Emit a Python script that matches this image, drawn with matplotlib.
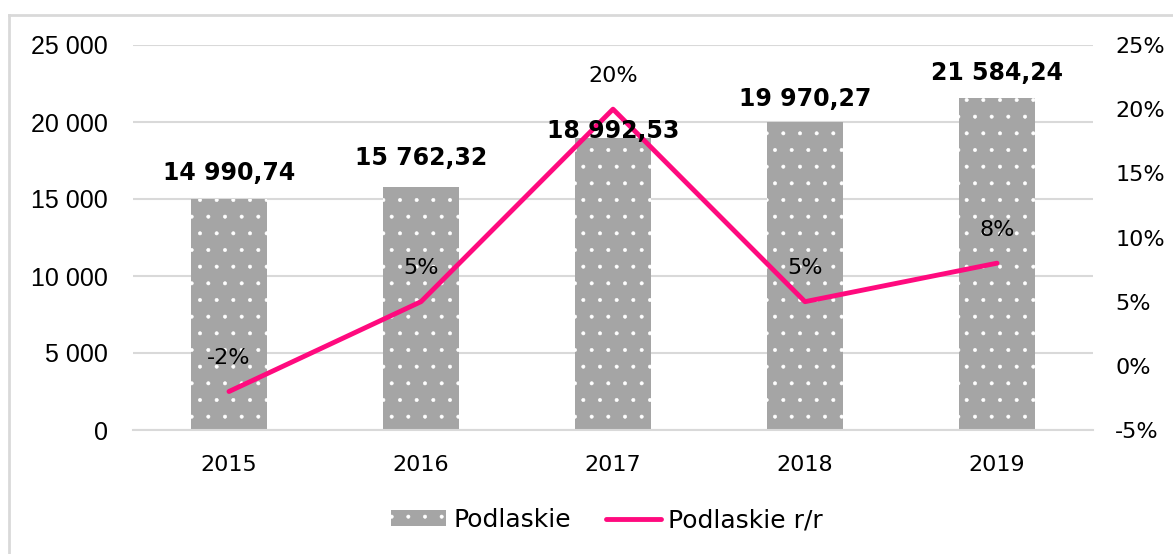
import matplotlib.pyplot as plt
import numpy as np
from matplotlib.lines import Line2D

years = ["2015", "2016", "2017", "2018", "2019"]
values = [14990.74, 15762.32, 18992.53, 19970.27, 21584.24]
yoy = [-2, 5, 20, 5, 8]
value_labels = ["14 990,74", "15 762,32", "18 992,53", "19 970,27", "21 584,24"]
yoy_labels = ["-2%", "5%", "20%", "5%", "8%"]
left_ticks = [0, 5000, 10000, 15000, 20000, 25000]
left_tick_labels = ["0", "5 000", "10 000", "15 000", "20 000", "25 000"]
right_ticks = [-5, 0, 5, 10, 15, 20, 25]
right_tick_labels = ["-5%", "0%", "5%", "10%", "15%", "20%", "25%"]

BAR = "#A5A5A5"
PINK = "#FF0A7E"
GRID = "#D9D9D9"

plt.rcParams["font.family"] = ["DejaVu Sans"]
plt.rcParams["hatch.linewidth"] = 0.4

fig = plt.figure(figsize=(11.73, 5.54), dpi=100)
# outer frame of the chart
fig.add_artist(Line2D([9 / 1173, 9 / 1173], [0, 1 - 15 / 554], color=GRID, lw=2,
                      transform=fig.transFigure))
fig.add_artist(Line2D([9 / 1173, 1], [1 - 15 / 554, 1 - 15 / 554], color=GRID, lw=2,
                      transform=fig.transFigure))

ax = fig.add_axes([133 / 1173, 1 - 430 / 554, 960 / 1173, 385 / 554])
x = np.arange(len(years))
bars = ax.bar(x, values, width=0.4, color=BAR, edgecolor="white", linewidth=0,
              hatch=".", zorder=2)
ax.set_xlim(-0.5, len(years) - 0.5)
ax.set_ylim(0, 25000)
ax.set_yticks(left_ticks)
ax.set_yticklabels(left_tick_labels, family=["Liberation Sans"], fontsize=18)
ax.set_xticks(x)
ax.set_xticklabels(years, fontsize=16)
ax.tick_params(axis="y", length=0, pad=18)
ax.tick_params(axis="x", length=0, pad=18)
ax.grid(axis="y", color=GRID, linewidth=1.5, zorder=0)
ax.set_axisbelow(True)
for s in ["top", "right", "left"]:
    ax.spines[s].set_visible(False)
ax.spines["bottom"].set_color(GRID)
ax.spines["bottom"].set_linewidth(1.5)

ax2 = ax.twinx()
ax2.plot(x, yoy, color=PINK, linewidth=3.5, solid_capstyle="round", zorder=3)
ax2.set_ylim(-5, 25)
ax2.set_yticks(right_ticks)
ax2.set_yticklabels(right_tick_labels, fontsize=16)
ax2.tick_params(axis="y", length=0, pad=16)
for s in ax2.spines.values():
    s.set_visible(False)

# value labels above bars (2017 sits lower to leave room for the 20% label)
bar_offsets = [19, 21, 5, 17, 18]
for i, (v, lab) in enumerate(zip(values, value_labels)):
    ax2.annotate(lab, xy=(x[i], v), xycoords=ax.transData,
                 xytext=(0, bar_offsets[i]), textcoords="offset points",
                 ha="center", va="center", fontsize=17, fontweight="bold", zorder=5)

for i, (p, lab) in enumerate(zip(yoy, yoy_labels)):
    ax2.annotate(lab, xy=(x[i], p), xytext=(0, 24), textcoords="offset points",
                 ha="center", va="center", fontsize=16, zorder=5)

handles = [bars, Line2D([], [], color=PINK, linewidth=3.5, solid_capstyle="round")]
fig.legend(handles, ["Podlaskie", "Podlaskie r/r"], loc="center",
           bbox_to_anchor=(607 / 1173, 1 - 520 / 554), ncol=2, frameon=False,
           fontsize=18, handlelength=2.2, handleheight=0.6, columnspacing=1.4,
           handletextpad=0.28)

fig.savefig("out.png", dpi=100)
